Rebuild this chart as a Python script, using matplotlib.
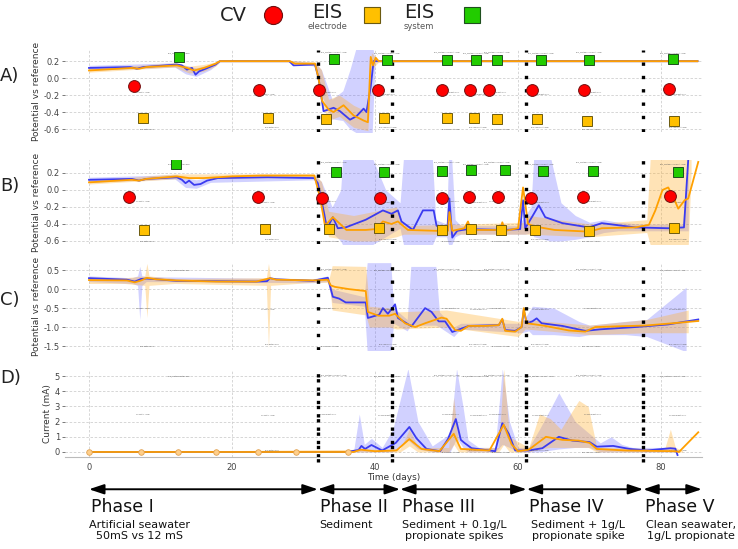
import numpy as np
import matplotlib
matplotlib.use('Agg')
import matplotlib.pyplot as plt
from matplotlib.lines import Line2D

plt.rcParams['font.family'] = ['DejaVu Sans']
plt.rcParams['axes.unicode_minus'] = False

# ---- event markers (days) and their values per panel ----
cv_days = [6.3, 23.8, 32.2, 40.4, 49.4, 53.3, 55.9, 62.0, 69.2, 81.1]
cv_a = [-0.09, -0.14, -0.14, -0.14, -0.14, -0.14, -0.14, -0.14, -0.14, -0.13]
cv_days_b = [5.6, 23.7, 32.6, 40.7, 49.4, 53.1, 57.2, 61.8, 69.1, 81.3]
cv_b = [-0.08, -0.08, -0.10, -0.10, -0.09, -0.08, -0.08, -0.09, -0.08, -0.07]

eis_days = [7.6, 25.1, 33.2, 41.3, 50.1, 53.9, 57.1, 62.6, 69.7, 81.8]
eis_a = [-0.47, -0.47, -0.48, -0.47, -0.47, -0.47, -0.48, -0.48, -0.50, -0.50]
eis_days_b = [7.7, 24.6, 33.5, 40.6, 49.4, 53.4, 57.6, 62.4, 69.9, 81.8]
eis_b = [-0.47, -0.46, -0.46, -0.45, -0.47, -0.46, -0.47, -0.47, -0.48, -0.45]

sys_days = [12.6, 34.3, 41.7, 50.1, 54.1, 57.1, 63.2, 69.9, 81.7]
sys_a = [0.25, 0.22, 0.21, 0.21, 0.21, 0.21, 0.21, 0.21, 0.22]
sys_days_b = [12.2, 34.6, 41.3, 49.4, 53.4, 58.2, 63.5, 70.5, 82.4]
sys_b = [0.30, 0.21, 0.21, 0.22, 0.23, 0.23, 0.22, 0.22, 0.21]

phase_bounds = [32.0, 42.4, 61.1, 77.5]

# ---- panel A ----
a_blue_x = [0, 5.8, 6.7, 7.6, 12.3, 13.0, 13.7, 14.4, 14.9, 15.4, 16.3, 17.7, 18.3, 28.0, 28.6,
            31.6, 32.1, 32.8, 33.5, 34.2, 35.1, 36.5, 37.4, 38.4, 38.8, 39.4, 39.8, 85.1]
a_blue_y = [0.12, 0.13, 0.11, 0.13, 0.16, 0.15, 0.10, 0.12, 0.04, 0.08, 0.11, 0.16, 0.20, 0.20, 0.15,
            0.16, 0.00, -0.39, -0.37, -0.35, -0.39, -0.49, -0.45, -0.36, -0.40, -0.10, 0.20, 0.20]
a_orng_x = [0, 6.0, 7.0, 8.0, 12.3, 13.7, 14.7, 16.1, 17.7, 18.3, 28.1, 28.8, 31.6, 32.1, 32.6,
            33.5, 34.2, 35.6, 37.0, 38.4, 39.0, 39.4, 39.7, 40.1, 40.5, 85.1]
a_orng_y = [0.09, 0.12, 0.11, 0.13, 0.15, 0.12, 0.09, 0.12, 0.17, 0.20, 0.20, 0.17, 0.17, 0.00, -0.27,
            -0.37, -0.40, -0.32, -0.44, -0.50, -0.52, 0.25, 0.15, 0.24, 0.20, 0.20]
a_bb_x = [0, 12, 13.5, 15, 17, 18.3, 28, 31.6, 32.5, 34, 35.5, 36.5, 37.5, 39.6, 40, 85.1]
a_bb_lo = [0.09, 0.13, 0.05, 0.02, 0.10, 0.19, 0.19, 0.14, -0.2, -0.48, -0.5, -0.6, -0.65, -0.65, 0.19, 0.19]
a_bb_hi = [0.15, 0.18, 0.15, 0.12, 0.16, 0.21, 0.21, 0.18, 0.1, -0.25, -0.15, 0.1, 0.4, 0.4, 0.21, 0.21]
a_ob_x = [0, 12, 14, 16, 17.7, 18.3, 28, 31.6, 32.5, 33.5, 35, 37, 39, 39.5, 40.5, 85.1]
a_ob_lo = [0.07, 0.13, 0.06, 0.08, 0.14, 0.19, 0.19, 0.15, -0.3, -0.5, -0.45, -0.58, -0.62, 0.1, 0.19, 0.19]
a_ob_hi = [0.11, 0.18, 0.14, 0.16, 0.19, 0.21, 0.21, 0.19, 0.1, -0.25, -0.2, -0.32, -0.4, 0.3, 0.21, 0.21]

# ---- panel B ----
b_blue_x = [0, 6, 7, 8, 12.3, 13, 13.5, 14, 14.7, 15.6, 16.5, 18, 25, 31.5, 32, 32.8, 33.3, 34.1,
            34.8, 35.9, 38.7, 41.1, 42.3, 43.2, 43.7, 45.3, 46.7, 48.2, 48.6, 50.1, 50.4, 50.8,
            51.5, 53, 58, 60.3, 60.7, 61, 62, 62.9, 63.8, 66.2, 69.9, 71.7, 76.4, 81, 83.2, 83.8]
b_blue_y = [0.12, 0.13, 0.11, 0.13, 0.15, 0.12, 0.08, 0.11, 0.06, 0.07, 0.11, 0.14, 0.15, 0.14, 0.08,
            -0.24, -0.45, -0.32, -0.45, -0.44, -0.35, -0.24, -0.28, -0.24, -0.37, -0.47, -0.24, -0.24,
            -0.42, -0.48, -0.10, -0.56, -0.48, -0.46, -0.47, -0.46, -0.12, -0.45, -0.31, -0.18, -0.32,
            -0.39, -0.44, -0.39, -0.44, -0.45, -0.44, 0.36]
b_orng_x = [0, 6, 7, 8, 12.3, 14, 16, 20, 24, 31.5, 32.3, 33, 34.1, 35.5, 36, 38.7, 40.1, 41.1, 42.3,
            43.2, 44.6, 48.5, 50.2, 50.4, 50.8, 52.5, 53, 53.4, 57.5, 57.8, 58.2, 60, 60.7, 61.4, 62.4,
            65.1, 69.9, 71.7, 76.4, 78.3, 79.2, 80.2, 81, 81.7, 82.4, 83.3, 83.8, 85.2]
b_orng_y = [0.09, 0.12, 0.11, 0.13, 0.16, 0.14, 0.14, 0.16, 0.17, 0.17, -0.08, -0.42, -0.32, -0.43,
            -0.47, -0.47, -0.46, -0.37, -0.40, -0.37, -0.47, -0.48, -0.48, -0.26, -0.48, -0.45, -0.37,
            -0.47, -0.47, -0.38, -0.48, -0.45, 0.03, -0.40, -0.43, -0.47, -0.49, -0.45, -0.44, -0.41,
            -0.24, 0.0, 0.03, -0.08, -0.22, -0.12, -0.10, 0.33]
b_bb_x = [0, 12, 13.5, 15, 17, 31.5, 32.5, 34, 35.2, 35.5, 39.5, 41.5, 43.5, 44, 48, 48.5, 50, 50.3, 50.7,
          51.2, 52, 60, 61, 61.8, 62.2, 64.5, 66, 68, 70, 72, 74, 77, 83, 83.8]
b_bb_lo = [0.09, 0.13, 0.03, 0.02, 0.09, 0.12, -0.2, -0.5, -0.6, -0.65, -0.65, -0.55, -0.45, -0.65, -0.65,
           -0.55, -0.55, -0.65, -0.65, -0.55, -0.52, -0.52, -0.52, -0.5, -0.55, -0.6, -0.6, -0.58, -0.55,
           -0.5, -0.48, -0.48, -0.48, -0.48]
b_bb_hi = [0.15, 0.18, 0.14, 0.12, 0.15, 0.17, 0.1, -0.2, 0.0, 0.4, 0.4, 0.0, -0.15, 0.4, 0.4, -0.35,
           -0.4, 0.4, 0.4, -0.35, -0.42, -0.42, -0.3, -0.2, 0.4, 0.4, -0.15, -0.3, -0.38, -0.35, -0.38,
           -0.4, -0.4, 0.4]
b_ob_x = [0, 12, 31.5, 32.5, 33.5, 37, 40, 43, 44, 61, 61.5, 70, 78, 78.5, 83.8, 84.2]
b_ob_lo = [0.07, 0.13, 0.15, -0.25, -0.55, -0.6, -0.6, -0.55, -0.52, -0.52, -0.52, -0.55, -0.5, -0.65, -0.65, 0.2]
b_ob_hi = [0.11, 0.19, 0.19, 0.1, -0.25, -0.3, -0.25, -0.2, -0.42, -0.38, -0.3, -0.4, -0.35, 0.4, 0.4, 0.4]

# ---- panel C ----
c_blue_x = [0, 5.3, 6.4, 7.3, 8.1, 12.2, 23.4, 24.9, 25.3, 26.2, 31.3, 33.4, 34.1, 35.0, 35.9, 38.7,
            39.0, 40.6, 41.1, 41.8, 42.8, 43.2, 45.1, 47.0, 47.9, 48.9, 49.8, 50.8, 53.1, 57.3, 57.8,
            58.2, 59.6, 60.5, 60.8, 61.2, 62.0, 62.6, 63.3, 66.2, 69.4, 71.5, 76.4, 81.0, 85.2]
c_blue_y = [0.29, 0.25, 0.20, 0.27, 0.28, 0.22, 0.20, 0.21, 0.29, 0.26, 0.22, 0.30, -0.20, -0.25, -0.35,
            -0.35, -0.76, -0.67, -0.50, -0.65, -0.40, -0.76, -0.98, -0.50, -0.60, -0.85, -0.85, -1.13,
            -0.97, -0.95, -0.80, -1.08, -1.10, -1.0, -0.55, -0.90, -0.85, -0.77, -0.90, -0.97, -1.10,
            -1.06, -1.00, -0.93, -0.80]
c_orng_x = [0, 5.3, 6.4, 7.3, 8.1, 9.4, 12.2, 17.8, 23.4, 25.3, 26.2, 31.3, 33.4, 33.8, 34.4, 36.4,
            38.7, 39.0, 40.5, 42.0, 42.8, 44.2, 45.6, 47.0, 49.3, 50.0, 51.2, 52.0, 53.1, 55.4, 57.3,
            57.8, 58.2, 59.6, 60.5, 60.8, 61.2, 62.4, 63.8, 67.1, 69.4, 70.8, 74.0, 77.8, 81.0, 85.2]
c_orng_y = [0.24, 0.23, 0.18, 0.23, 0.30, 0.26, 0.23, 0.20, 0.20, 0.29, 0.25, 0.23, 0.25, 0.10, 0.06,
            0.0, -0.05, -0.60, -0.70, -0.70, -0.65, -0.90, -1.00, -0.90, -0.75, -0.78, -1.08, -1.10,
            -0.97, -0.97, -0.95, -0.78, -1.10, -1.12, -1.00, -0.50, -0.90, -0.93, -0.97, -1.09, -1.12,
            -1.00, -0.98, -0.96, -0.91, -0.84]
c_bb_x = [0, 6, 6.8, 7.1, 7.4, 8, 31.3, 33.4, 34, 38.5, 38.9, 42.2, 42.6, 44.5, 45, 48.5, 49, 51, 52,
          60.5, 61.5, 62, 65, 68.5, 70, 75, 78, 83.5]
c_bb_lo = [0.2, 0.15, 0.1, -0.8, 0.1, 0.2, 0.17, 0.2, -0.35, -0.45, -1.65, -1.65, -0.9, -1.1, -0.95,
           -0.95, -1.0, -1.25, -1.05, -1.15, -1.1, -1.2, -1.2, -1.25, -1.2, -1.2, -1.25, -1.65]
c_bb_hi = [0.35, 0.3, 0.35, 0.6, 0.35, 0.33, 0.27, 0.35, 0.0, -0.2, 0.7, 0.7, -0.5, -0.8, 0.6, 0.6,
           -0.6, -1.0, -0.9, -0.9, -0.6, -0.45, -0.5, -0.85, -0.95, -0.85, -0.8, 0.05]
c_ob_x = [0, 5, 7.8, 8.1, 8.4, 12, 24.8, 25.1, 25.4, 31.3, 33.6, 34, 38.7, 39.2, 42, 43, 50, 60, 61, 70, 78, 83.8]
c_ob_lo = [0.15, 0.15, 0.1, -0.75, 0.1, 0.15, 0.1, -1.55, 0.1, 0.18, 0.18, -0.55, -0.68, -1.0, -1.0, -1.05,
           -1.0, -1.25, -1.05, -1.2, -1.15, -1.15]
c_ob_hi = [0.32, 0.3, 0.35, 0.68, 0.35, 0.28, 0.3, 0.68, 0.3, 0.27, 0.3, 0.62, 0.6, -0.45, -0.5, -0.6,
           -0.55, -0.85, -0.8, -0.95, -0.8, -0.55]

# ---- panel D ----
d_blue_x = [0, 36, 37.7, 38.1, 38.6, 39.5, 41, 42.9, 44.8, 45.8, 47.2, 49.1, 50.2, 51.3, 52, 52.5, 53.5,
            56.8, 57.8, 58.7, 59.6, 61.5, 63.4, 65.7, 67.6, 70, 71, 73.3, 75.6, 78, 81.3, 82, 82.3]
d_blue_y = [0, 0, 0.13, 0.4, 0.2, 0.46, 0.1, 0.6, 1.65, 0.9, 0.2, 0.05, 0.85, 2.17, 0.8, 0.6, 0.25,
            0.05, 1.9, 1.2, 0.1, 0.1, 0.25, 1.0, 0.75, 0.65, 0.35, 0.4, 0.2, 0.1, 0.25, 0.22, -0.2]
d_orng_x = [0, 37, 38, 40, 43, 44.8, 46.5, 49, 51, 52, 56, 58, 59.1, 60, 61.5, 63.9, 66.2, 68.5, 70, 71,
            75, 82, 82.5, 85.2]
d_orng_y = [0, 0, 0.15, 0.05, 0.1, 0.85, 0.2, 0.05, 1.2, 0.2, 0.1, 1.8, 0.5, 0.05, 0.15, 1.0, 0.8, 0.75,
            0.6, 0.2, 0.1, 0.05, 0.0, 1.3]
d_bb_x = [0, 37, 37.8, 38.5, 39.5, 41, 42.5, 44.6, 46, 48, 50.5, 51.4, 52.3, 53, 54.5, 56.8, 57.8, 58.8,
          60, 61.5, 63, 65.7, 68, 70, 71.5, 73, 74.5, 76, 82]
d_bb_lo = [0, 0, 0, 0, 0, 0, 0, 0.8, 0.2, 0, 0, 0.9, 0.3, 0, 0, 0, 0.5, 0.3, 0, 0, 0, 0.2, 0.3, 0.3, 0,
           0, 0, 0, 0]
d_bb_hi = [0, 0.05, 2.5, 0.5, 0.9, 0.3, 1.5, 5.5, 2.0, 0.4, 1.2, 5.5, 3.0, 0.8, 0.3, 0.3, 5.5, 2.0, 0.3,
           0.3, 1.5, 3.9, 2.0, 1.2, 0.6, 1.0, 0.5, 0.3, 0.3]
d_ob_x = [0, 43.5, 44.8, 46, 50.3, 51, 51.7, 57.3, 58, 58.8, 61.5, 63, 64.5, 66, 68.5, 69.8, 71, 80.5, 81.3,
          82, 83]
d_ob_lo = [0, 0, 0.4, 0, 0, 0.5, 0, 0, 0.5, 0, 0, 0.2, 0.3, 0.3, 0.3, 0.3, 0, 0, 0, 0, 0]
d_ob_hi = [0, 0.2, 1.5, 0.3, 0.3, 3.6, 0.3, 0.3, 5.5, 1.0, 0.3, 2.5, 2.2, 1.5, 3.4, 3.0, 0.3, 0.2, 1.5,
           0.3, 0.1]
d_samples = [0, 7.3, 12.5, 17.7, 23.6, 29.0, 36.2]

phases = ['Phase I', 'Phase II', 'Phase III', 'Phase IV', 'Phase V']
phase_desc = ['Artificial seawater\n50mS vs 12 mS', 'Sediment', 'Sediment + 0.1g/L\npropionate spikes',
              'Sediment + 1g/L\npropionate spike', 'Clean seawater,\n1g/L propionate']
phase_edges = [0, 32.0, 43.5, 61.2, 77.5, 85.7]
phase_desc_x = [7.0, 32.2, 51.1, 68.4, 84.2]

BLUE = '#3b3bf0'
ORNG = '#ffa000'
XLIM = (-3.36, 85.7)

fig = plt.figure(figsize=(7.38, 5.49), dpi=100)
left, width = 0.088, 0.863
axA = fig.add_axes([left, 0.7596, width, 0.149])
axB = fig.add_axes([left, 0.5556, width, 0.153])
axC = fig.add_axes([left, 0.3625, width, 0.158])
axD = fig.add_axes([left, 0.1676, width, 0.158])


def base(ax, ylim, yticks, ylabel):
    ax.set_xlim(*XLIM)
    ax.set_ylim(*ylim)
    ax.set_yticks(yticks)
    ax.set_xticks([0, 20, 40, 60, 80])
    for s in ax.spines.values():
        s.set_visible(False)
    ax.grid(True, color='#d0d0d0', lw=0.6, ls=(0, (3, 2)))
    ax.set_axisbelow(True)
    ax.tick_params(axis='y', labelsize=6, colors='#444444', length=2, width=0.5, pad=1.5)
    ax.tick_params(axis='x', length=0, labelbottom=False)
    ax.set_ylabel(ylabel, fontsize=6.5, color='#333333', labelpad=2)
    for d in phase_bounds:
        ax.axvline(d, color='black', lw=2.4, ls=(0, (1, 3)), zorder=6)


def tiny(ax, ys):
    # small annotation labels that sit next to each sampling event
    for i, d in enumerate(sys_days):
        lvl = 'water level' if d < 32 else 'sediment level'
        ax.text(d, ys[0] + (0.02 * (ys[0] - ys[2])) * (i % 2), 'EIS_system ' + lvl, fontsize=1.4,
                color='#555555', ha='center', va='center')
    for i, d in enumerate(cv_days):
        lvl = 'water level' if d < 32 else 'sediment level'
        ax.text(d + 1.2, ys[1] - (0.02 * (ys[0] - ys[2])) * (i % 2), 'CV ' + lvl, fontsize=1.4,
                color='#555555', ha='center', va='center')
    for i, d in enumerate(eis_days):
        lvl = 'water level' if d < 32 else 'sediment level'
        ax.text(d + 0.5, ys[2] + (0.02 * (ys[0] - ys[2])) * (i % 2), 'EIS ' + lvl, fontsize=1.4,
                color='#555555', ha='center', va='center')


def series(ax, bx, blo, bhi, ox, olo, ohi, xb, yb, xo, yo):
    ax.fill_between(bx, blo, bhi, color='#5a5aff', alpha=0.28, lw=0, zorder=2)
    ax.fill_between(ox, olo, ohi, color='#ffb030', alpha=0.35, lw=0, zorder=2)
    ax.plot(xb, yb, color=BLUE, lw=1.3, zorder=3)
    ax.plot(xo, yo, color=ORNG, lw=1.3, zorder=4)


def markers(ax, cx, cy, ex, ey, sx, sy):
    ax.plot(cx, cy, 'o', ms=8.5, mfc='#ff0000', mec='#701010', mew=0.7, zorder=7, ls='none')
    ax.plot(ex, ey, 's', ms=7.5, mfc='#ffc000', mec='#6b5a10', mew=0.7, zorder=7, ls='none')
    ax.plot(sx, sy, 's', ms=7.5, mfc='#22cc00', mec='#1f4f1f', mew=0.7, zorder=7, ls='none')


base(axA, (-0.635, 0.329), [0.2, 0.0, -0.2, -0.4, -0.6], 'Potential vs reference')
series(axA, a_bb_x, a_bb_lo, a_bb_hi, a_ob_x, a_ob_lo, a_ob_hi, a_blue_x, a_blue_y, a_orng_x, a_orng_y)
markers(axA, cv_days, cv_a, eis_days, eis_a, sys_days, sys_a)
tiny(axA, [0.29, -0.17, -0.6])

base(axB, (-0.635, 0.353), [0.2, 0.0, -0.2, -0.4, -0.6], 'Potential vs reference')
series(axB, b_bb_x, b_bb_lo, b_bb_hi, b_ob_x, b_ob_lo, b_ob_hi, b_blue_x, b_blue_y, b_orng_x, b_orng_y)
markers(axB, cv_days_b, cv_b, eis_days_b, eis_b, sys_days_b, sys_b)
tiny(axB, [0.31, -0.13, -0.6])

base(axC, (-1.605, 0.684), [0.5, 0.0, -0.5, -1.0, -1.5], 'Potential vs reference')
series(axC, c_bb_x, c_bb_lo, c_bb_hi, c_ob_x, c_ob_lo, c_ob_hi, c_blue_x, c_blue_y, c_orng_x, c_orng_y)
tiny(axC, [0.5, -0.5, -1.5])

base(axD, (-0.33, 5.39), [0, 1, 2, 3, 4, 5], 'Current (mA)')
series(axD, d_bb_x, d_bb_lo, d_bb_hi, d_ob_x, d_ob_lo, d_ob_hi, d_blue_x, d_blue_y, d_orng_x, d_orng_y)
axD.plot(d_samples, [0] * len(d_samples), 'o', ms=4, mfc='#ffcf8a', mec='#e0a050', mew=0.6, zorder=5)
tiny(axD, [5.0, 2.5, 0.0])
axD.tick_params(axis='x', labelbottom=True, labelsize=6, colors='#444444', length=0, pad=4)
axD.spines['bottom'].set_visible(True)
axD.spines['bottom'].set_color('#bbbbbb')
axD.spines['bottom'].set_linewidth(0.8)
axD.set_xlabel('Time (days)', fontsize=6.5, color='#333333', labelpad=1)
axD.xaxis.label.set_x(0.516)
for d in phase_bounds:
    axD.axvline(d, ymin=-0.06, ymax=1, color='black', lw=2.4, ls=(0, (1, 3)), zorder=6, clip_on=False)

# panel letters
for lab, y in zip(['A)', 'B)', 'C)', 'D)'], [0.862, 0.662, 0.453, 0.312]):
    fig.text(0.0, y, lab, fontsize=13, color='#222222', va='center')

# top legend
fig.text(0.298, 0.972, 'CV', fontsize=14, color='#222222', va='center')
fig.add_artist(Line2D([0.370], [0.972], transform=fig.transFigure, marker='o', ms=13,
                      mfc='#ff0000', mec='#701010', mew=0.8))
fig.text(0.4435, 0.977, 'EIS', fontsize=14, color='#222222', va='center', ha='center')
fig.text(0.4435, 0.951, 'electrode', fontsize=6, color='#555555', va='center', ha='center')
fig.add_artist(Line2D([0.504], [0.972], transform=fig.transFigure, marker='s', ms=12,
                      mfc='#ffc000', mec='#6b5a10', mew=0.8))
fig.text(0.568, 0.977, 'EIS', fontsize=14, color='#222222', va='center', ha='center')
fig.text(0.568, 0.951, 'system', fontsize=6, color='#555555', va='center', ha='center')
fig.add_artist(Line2D([0.640], [0.972], transform=fig.transFigure, marker='s', ms=12,
                      mfc='#22cc00', mec='#1f4f1f', mew=0.8))

# phase arrows and text
axP = fig.add_axes([left, 0.0, width, 0.16])
axP.set_xlim(*XLIM)
axP.set_ylim(0, 1)
axP.axis('off')
for i in range(len(phases)):
    a, b = phase_edges[i], phase_edges[i + 1]
    axP.annotate('', xy=(b, 0.68), xytext=(a, 0.68),
                 arrowprops=dict(arrowstyle='<|-|>,head_length=0.9,head_width=0.3',
                                 color='black', lw=1.4, shrinkA=0, shrinkB=0))
    axP.text(a + 0.3, 0.475, phases[i], fontsize=12.5, color='#111111', va='center', ha='left')
    axP.text(phase_desc_x[i], 0.33, phase_desc[i], fontsize=8, color='#111111', va='top',
             ha='center' if i != 1 else 'left', linespacing=1.15)

fig.savefig('out.png', dpi=100)
